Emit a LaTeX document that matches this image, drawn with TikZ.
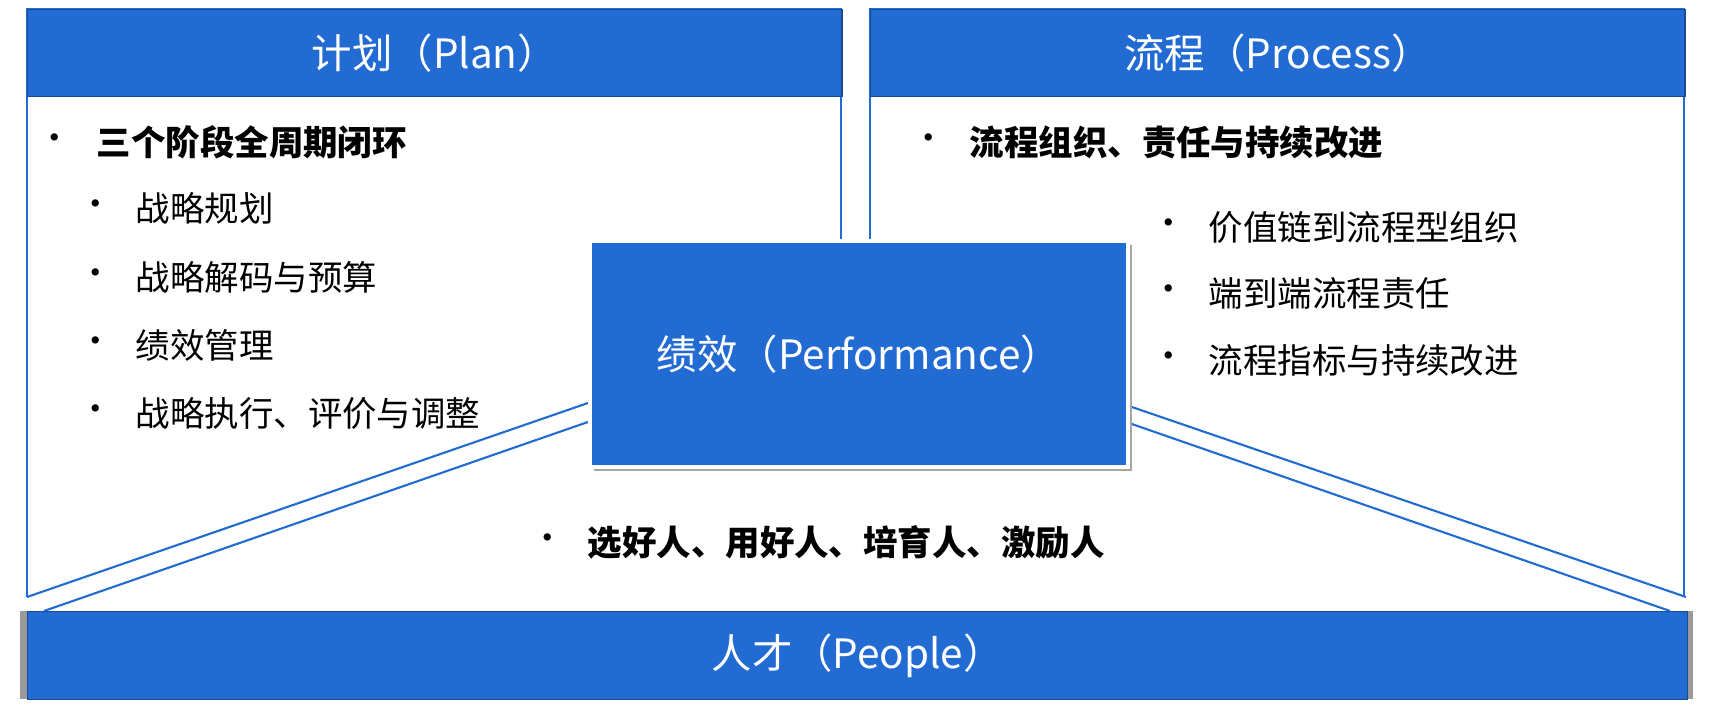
\documentclass[tikz,border=0pt]{standalone}
\usepackage{fontspec}
\setmainfont{Noto Sans CJK SC}
\usetikzlibrary{positioning}
\definecolor{hdblue}{RGB}{33,107,210}
\tikzset{
  head/.style={fill=hdblue,draw=hdblue!70!black,text=white,font=\fontsize{11.5}{13}\selectfont,inner sep=0pt},
  item/.style={anchor=west,font=\fontsize{9.8}{11}\selectfont,inner sep=0pt},
  dot/.style={anchor=center,font=\fontsize{9.8}{11}\selectfont,inner sep=0pt},
  frame/.style={draw=hdblue,line width=0.6pt}
}
\begin{document}
\begin{tikzpicture}[x=0.01cm,y=-0.01cm]
    \useasboundingbox (0,0) rectangle (1717,710);

    % panels
    \draw[frame] (27,597) -- (27,9) -- (841,9) -- (841,239);
    \draw[frame] (870,239) -- (870,9) -- (1684,9) -- (1684,597);
    \node[head,minimum width=8.14cm,minimum height=0.87cm,anchor=north west] (plan) at (27,9) {};
    \node[head,minimum width=8.14cm,minimum height=0.87cm,anchor=north west] (proc) at (870,9) {};
    \node at (plan.center) [text=white,font=\fontsize{11.5}{13}\selectfont] {计划（Plan）};
    \node at (proc.center) [text=white,font=\fontsize{11.5}{13}\selectfont] {流程（Process）};

    % diagonals
    \coordinate (la) at (27,597);  \coordinate (lb) at (588,403);
    \coordinate (lc) at (44,611);  \coordinate (ld) at (588,422);
    \coordinate (ra) at (1126,405); \coordinate (rb) at (1686,597);
    \coordinate (rc) at (1126,422); \coordinate (rd) at (1670,611);
    \draw[frame] (la) -- (lb);
    \draw[frame] (lc) -- (ld);
    \draw[frame] (ra) -- (rb);
    \draw[frame] (rc) -- (rd);

    % center
    \fill[black!35] (594,245) rectangle (1132,471);
    \node[head,draw=white,line width=1pt,minimum width=5.38cm,minimum height=2.26cm,anchor=north west] (perf) at (588,239) {};
    \node at (perf.center) [text=white,font=\fontsize{11.5}{13}\selectfont] {绩效（Performance）};

    % bottom bar
    \fill[black!40] (20,611) rectangle (1693,699);
    \node[head,minimum width=16.59cm,minimum height=0.88cm,anchor=north west] (people) at (27,611) {};
    \node at (people.center) [text=white,font=\fontsize{11.5}{13}\selectfont] {人才（People）};

    % plan items
    \node[dot] at (55,142) {•};
    \node[item] at (96,142) {\bfseries 三个阶段全周期闭环};
    \foreach \y/\t in {208/战略规划,277/战略解码与预算,345/绩效管理,413/战略执行、评价与调整}{
        \node[dot] at (96,\y) {•};
        \node[item] at (135,\y) {\t};
    }

    % process items
    \node[dot] at (929,142) {•};
    \node[item] at (969,142) {\bfseries 流程组织、责任与持续改进};
    \foreach \y/\t in {227/价值链到流程型组织,293/端到端流程责任,360/流程指标与持续改进}{
        \node[dot] at (1169,\y) {•};
        \node[item] at (1208,\y) {\t};
    }

    % people items
    \node[dot] at (548,542) {•};
    \node[item] at (587,542) {\bfseries 选好人、用好人、培育人、激励人};
\end{tikzpicture}
\end{document}
